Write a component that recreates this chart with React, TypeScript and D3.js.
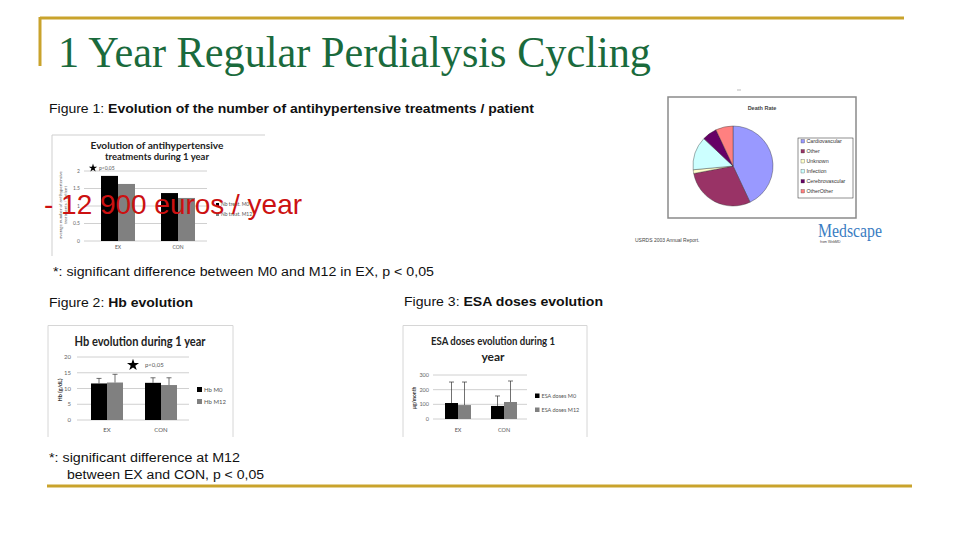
import * as d3 from 'd3';
import React from 'react';

// Figure 1 - antihypertensive treatments / patient
const fig1Groups = ['EX', 'CON'];
const fig1Series = ['Nb treat. M0', 'Nb treat. M12'];
const fig1M0 = [1.86, 1.37];
const fig1M12 = [1.63, 1.23];
const fig1Ticks = [0, 0.5, 1, 1.5, 2];

// Figure 2 - Hb (g/dL)
const hbGroups = ['EX', 'CON'];
const hbSeries = ['Hb M0', 'Hb M12'];
const hbM0 = [11.6, 11.8];
const hbM0Err = [1.6, 1.6];
const hbM12 = [11.9, 11.1];
const hbM12Err = [2.6, 2.3];
const hbTicks = [0, 5, 10, 15, 20];

// Figure 3 - ESA doses
const esaGroups = ['EX', 'CON'];
const esaSeries = ['ESA doses M0', 'ESA doses M12'];
const esaM0 = [109, 89];
const esaM0Err = [143, 68];
const esaM12 = [95, 116];
const esaM12Err = [157, 143];
const esaTicks = [0, 100, 200, 300];

// Death rate pie (USRDS)
const deathCauses = ['Cardiovascular', 'Other', 'Unknown', 'Infection', 'Cerebrovascular', 'OtherOther'];
const deathShares = [43, 29, 1.5, 13.5, 6, 7];
const deathColors = ['#9999ff', '#993366', '#ffffcc', '#ccffff', '#660066', '#ff8080'];

const GOLD = '#c9a32c';
const GREEN = '#1a6a3c';
const SANS = '"Liberation Sans", Arial, sans-serif';
const CHART = 'Lato, "Open Sans", sans-serif';

interface Series {
  name: string;
  values: number[];
  errors?: number[];
  color: string;
}

interface BarsProps {
  groups: string[];
  series: Series[];
  ticks: number[];
  yDomain: [number, number];
  yRange: [number, number];
  xRange: [number, number];
  barW: number;
  gridX: [number, number];
  tickX: number;
  xLabelY: number;
  legendX: number;
  legendY: number[];
  legendSize: number;
  fontSize: number;
}

const GroupedBars: React.FC<BarsProps> = (p) => {
  const y = d3.scaleLinear().domain(p.yDomain).range(p.yRange);
  const x = d3.scaleBand().domain(p.groups).range(p.xRange);
  const sub = d3
    .scaleBand()
    .domain(p.series.map((s) => s.name))
    .range([-p.barW, p.barW]);
  const cx = (g: string) => (x(g) ?? 0) + x.bandwidth() / 2;

  return (
    <g>
      {p.ticks.map((t) => (
        <g key={t}>
          <line x1={p.gridX[0]} x2={p.gridX[1]} y1={y(t)} y2={y(t)} stroke="#c4c4c4" strokeWidth={0.8} />
          <text x={p.tickX} y={y(t) + p.fontSize * 0.35} textAnchor="end" fontSize={p.fontSize} fill="#666" fontFamily={CHART}>
            {String(t)}
          </text>
        </g>
      ))}
      {p.series.map((s) =>
        s.values.map((v, i) => {
          const g = p.groups[i];
          const bx = cx(g) + (sub(s.name) ?? 0);
          return <rect key={s.name + g} x={bx} y={y(v)} width={sub.bandwidth()} height={y(0) - y(v)} fill={s.color} />;
        })
      )}
      {p.series.map((s) =>
        s.errors
          ? s.values.map((v, i) => {
              const g = p.groups[i];
              const mx = cx(g) + (sub(s.name) ?? 0) + sub.bandwidth() / 2;
              const top = y(v + (s.errors as number[])[i]);
              return (
                <g key={'e' + s.name + g} stroke="#333" strokeWidth={0.7}>
                  <line x1={mx} x2={mx} y1={y(v)} y2={top} />
                  <line x1={mx - 2.5} x2={mx + 2.5} y1={top} y2={top} />
                </g>
              );
            })
          : null
      )}
      {p.groups.map((g) => (
        <text key={g} x={cx(g)} y={p.xLabelY} textAnchor="middle" fontSize={p.fontSize} fill="#555" fontFamily={CHART}>
          {g}
        </text>
      ))}
      {p.series.map((s, i) => (
        <g key={'l' + s.name}>
          <rect x={p.legendX} y={p.legendY[i] - p.legendSize} width={p.legendSize} height={p.legendSize} fill={s.color} />
          <text x={p.legendX + p.legendSize + 2} y={p.legendY[i]} fontSize={p.fontSize} fill="#555" fontFamily={CHART}>
            {s.name}
          </text>
        </g>
      ))}
    </g>
  );
};

const star = d3.symbol().type(d3.symbolStar);

const DeathPie: React.FC = () => {
  const pie = d3.pie<number>().sort(null).value((d) => d);
  const arc = d3.arc<d3.PieArcDatum<number>>().innerRadius(0).outerRadius(40);
  const arcs = pie(deathShares);
  const ly = d3.scalePoint().domain(deathCauses).range([143, 193]);
  return (
    <g>
      <line x1={737} x2={741} y1={90} y2={90} stroke="#aaa" strokeWidth={0.8} />
      <rect x={668} y={97} width={188} height={121} fill="#fff" stroke="#8a8a8a" strokeWidth={1.5} />
      <text x={762} y={110} textAnchor="middle" fontSize={5.5} fontWeight="bold" fill="#444" fontFamily={SANS}>
        Death Rate
      </text>
      <g transform="translate(733,166)">
        {arcs.map((a, i) => (
          <path key={deathCauses[i]} d={arc(a) ?? ''} fill={deathColors[i]} stroke="#333" strokeWidth={0.4} />
        ))}
      </g>
      <rect x={798} y={138} width={55} height={60} fill="#fff" stroke="#222" strokeWidth={0.5} />
      {deathCauses.map((c, i) => (
        <g key={c}>
          <rect x={801} y={(ly(c) ?? 0) - 3.5} width={3.5} height={3.5} fill={deathColors[i]} stroke="#333" strokeWidth={0.3} />
          <text x={806.5} y={ly(c) ?? 0} fontSize={5.3} fill="#333" fontFamily={SANS}>
            {c}
          </text>
        </g>
      ))}
      <text x={635} y={242} fontSize={5} fill="#444" fontFamily={SANS}>
        USRDS 2003 Annual Report.
      </text>
      <text x={818} y={237} fontSize={19} fill="#3a7cc2" fontFamily='"Liberation Serif", serif' textLength={64} lengthAdjust="spacingAndGlyphs">
        Medscape
      </text>
      <text x={820} y={243} fontSize={3.5} fill="#444" fontFamily={SANS}>
        from WebMD
      </text>
    </g>
  );
};

const App: React.FC = () => {
  return (
    <svg width={960} height={540} style={{ position: 'absolute', left: 0, top: 0, background: '#fff' }}>
      {/* slide frame */}
      <line x1={40} x2={904} y1={18} y2={18} stroke={GOLD} strokeWidth={3} />
      <line x1={40} x2={40} y1={17} y2={66} stroke={GOLD} strokeWidth={3} />
      <line x1={47} x2={912} y1={486} y2={486} stroke={GOLD} strokeWidth={3} />
      <text x={58} y={67} fontSize={45} fill={GREEN} fontFamily='"Liberation Serif", "Times New Roman", serif' textLength={593} lengthAdjust="spacingAndGlyphs">
        1 Year Regular Perdialysis Cycling
      </text>

      {/* Figure 1 */}
      <text x={49} y={113} fontSize={13} fill="#111" fontFamily={SANS} textLength={485} lengthAdjust="spacingAndGlyphs">
        Figure 1: <tspan fontWeight="bold">Evolution of the number of antihypertensive treatments / patient</tspan>
      </text>
      <line x1={52} x2={265} y1={135} y2={135} stroke="#cfcfcf" strokeWidth={1} />
      <line x1={52} x2={52} y1={135} y2={256} stroke="#cfcfcf" strokeWidth={1} />
      <text x={157} y={149} textAnchor="middle" fontSize={9.5} fontWeight="bold" fill="#222" fontFamily={CHART} textLength={133} lengthAdjust="spacingAndGlyphs">
        Evolution of antihypertensive
      </text>
      <text x={157} y={160} textAnchor="middle" fontSize={9.5} fontWeight="bold" fill="#222" fontFamily={CHART}>
        treatments during 1 year
      </text>
      <GroupedBars
        groups={fig1Groups}
        series={[
          { name: fig1Series[0], values: fig1M0, color: '#000' },
          { name: fig1Series[1], values: fig1M12, color: '#808080' },
        ]}
        ticks={fig1Ticks}
        yDomain={[0, 2]}
        yRange={[241, 171]}
        xRange={[88, 208]}
        barW={17}
        gridX={[84, 207]}
        tickX={80}
        xLabelY={249}
        legendX={216}
        legendY={[206, 216]}
        legendSize={3}
        fontSize={5}
      />
      <path d={star.size(22)() ?? ''} transform="translate(93,168)" fill="#000" />
      <text x={99} y={170} fontSize={5} fill="#555" fontFamily={CHART}>
        p&lt;0,05
      </text>
      <g fontSize={4.3} fill="#555" fontFamily={CHART} textAnchor="middle">
        <text transform="translate(62,205) rotate(-90)">average number of antihypertensive</text>
        <text transform="translate(67,205) rotate(-90)">treatments / patient</text>
      </g>
      <text x={44} y={214} fontSize={28} fill="#cc1111" fontFamily={SANS} textLength={258} lengthAdjust="spacingAndGlyphs">
        - 12 900 euros / year
      </text>

      <DeathPie />

      <text x={53} y={276} fontSize={12.5} fill="#111" fontFamily={SANS} textLength={381} lengthAdjust="spacingAndGlyphs">
        *:  significant difference between M0 and M12 in EX, p &lt; 0,05
      </text>

      {/* Figure 2 */}
      <text x={49} y={307} fontSize={13} fill="#111" fontFamily={SANS} textLength={144} lengthAdjust="spacingAndGlyphs">
        Figure 2: <tspan fontWeight="bold">Hb evolution</tspan>
      </text>
      <path d="M48,437 V325.5 H233 V437" fill="none" stroke="#d6d6d6" strokeWidth={1} />
      <text x={140} y={346} textAnchor="middle" fontSize={12.5} fontWeight="bold" fill="#222" fontFamily={CHART} textLength={131} lengthAdjust="spacingAndGlyphs">
        Hb evolution during 1 year
      </text>
      <GroupedBars
        groups={hbGroups}
        series={[
          { name: hbSeries[0], values: hbM0, errors: hbM0Err, color: '#000' },
          { name: hbSeries[1], values: hbM12, errors: hbM12Err, color: '#808080' },
        ]}
        ticks={hbTicks}
        yDomain={[0, 20]}
        yRange={[420, 357]}
        xRange={[80, 188]}
        barW={16}
        gridX={[77, 189]}
        tickX={71}
        xLabelY={432}
        legendX={197}
        legendY={[392, 404]}
        legendSize={5}
        fontSize={6}
      />
      <path d={star.size(45)() ?? ''} transform="translate(133,365)" fill="#000" />
      <text x={145} y={367} fontSize={6} fill="#555" fontFamily={CHART}>
        p&lt;0,05
      </text>
      <text transform="translate(62,390) rotate(-90)" textAnchor="middle" fontSize={5.5} fontWeight="bold" fill="#333" fontFamily={CHART}>
        Hb (g/dL)
      </text>

      <text x={49} y={462} fontSize={12.5} fill="#111" fontFamily={SANS} textLength={191} lengthAdjust="spacingAndGlyphs">
        *: significant difference at M12
      </text>
      <text x={67} y={479} fontSize={12.5} fill="#111" fontFamily={SANS} textLength={197} lengthAdjust="spacingAndGlyphs">
        between EX and CON, p &lt; 0,05
      </text>

      {/* Figure 3 */}
      <text x={404} y={306} fontSize={13} fill="#111" fontFamily={SANS} textLength={199} lengthAdjust="spacingAndGlyphs">
        Figure 3: <tspan fontWeight="bold">ESA doses evolution</tspan>
      </text>
      <path d="M403,437 V325.5 H587 V437" fill="none" stroke="#d6d6d6" strokeWidth={1} />
      <text x={493} y={345} textAnchor="middle" fontSize={12} fontWeight="bold" fill="#222" fontFamily={CHART} textLength={124} lengthAdjust="spacingAndGlyphs">
        ESA doses evolution during 1
      </text>
      <text x={493} y={361} textAnchor="middle" fontSize={12} fontWeight="bold" fill="#222" fontFamily={CHART}>
        year
      </text>
      <GroupedBars
        groups={esaGroups}
        series={[
          { name: esaSeries[0], values: esaM0, errors: esaM0Err, color: '#000' },
          { name: esaSeries[1], values: esaM12, errors: esaM12Err, color: '#808080' },
        ]}
        ticks={esaTicks}
        yDomain={[0, 300]}
        yRange={[419, 375]}
        xRange={[435, 527]}
        barW={13}
        gridX={[433, 527]}
        tickX={429}
        xLabelY={432}
        legendX={535}
        legendY={[398, 412]}
        legendSize={4.5}
        fontSize={5.5}
      />
      <text transform="translate(416,398) rotate(-90)" textAnchor="middle" fontSize={5} fontWeight="bold" fill="#333" fontFamily={CHART}>
        µg/month
      </text>
    </svg>
  );
};

export default App;
